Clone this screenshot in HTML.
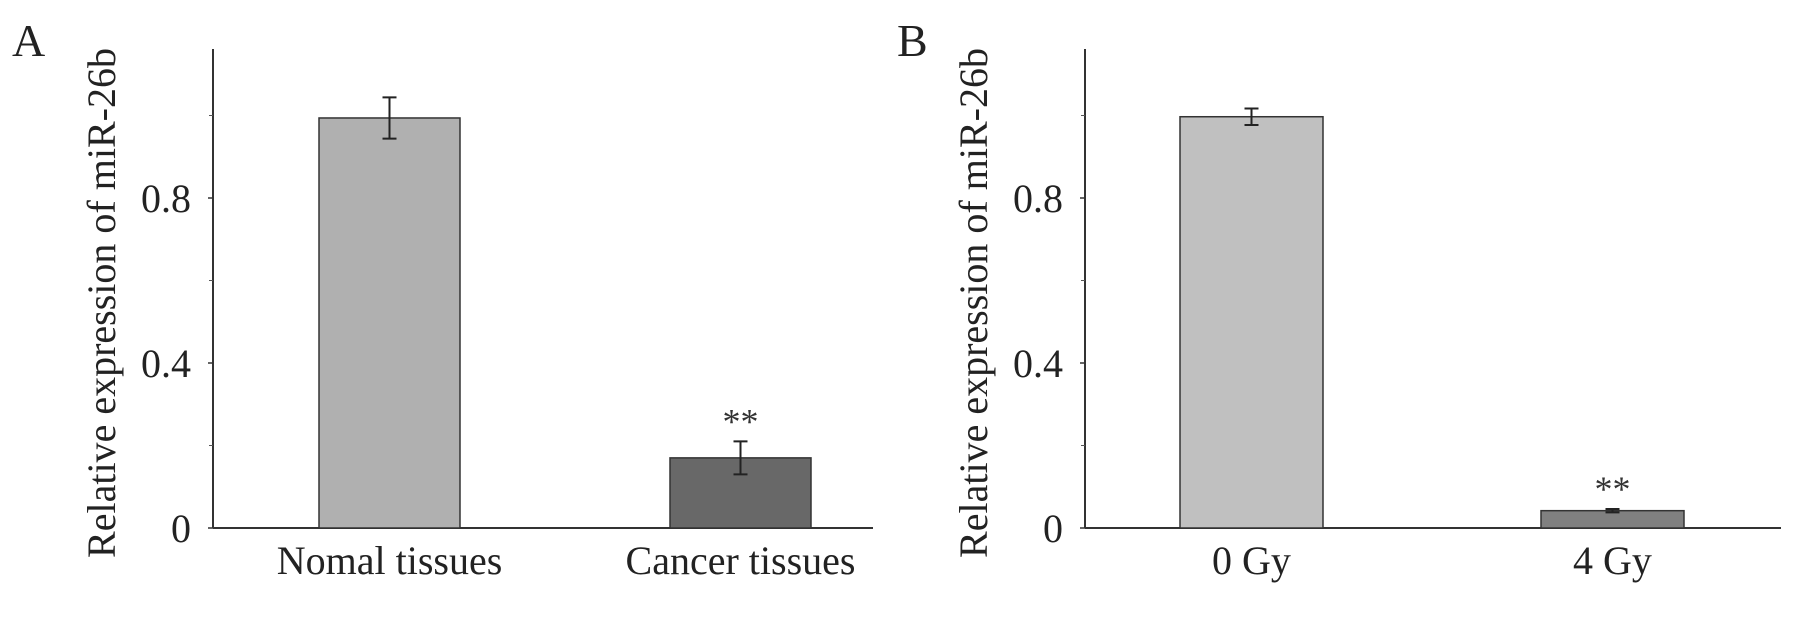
<!DOCTYPE html>
<html><head><meta charset="utf-8"><style>
html,body{margin:0;padding:0;background:#fff;}
svg{display:block;font-family:"Liberation Serif",serif;}
</style></head><body>
<svg id="fig" width="1808" height="618" viewBox="0 0 1808 618">
<text x="12" y="56" font-size="46" fill="#222">A</text>
<text x="897" y="56" font-size="46" fill="#222">B</text>
</svg>
<script>
const panelACategories = ["Nomal tissues", "Cancer tissues"];
const panelAValues = [0.994, 0.17];
const panelAErrors = [0.05, 0.04];
const panelBCategories = ["0 Gy", "4 Gy"];
const panelBValues = [0.997, 0.042];
const panelBErrors = [0.02, 0.004];
const yTickLabels = ["0", "0.4", "0.8"];
const yTickValues = [0, 0.4, 0.8];
const minorTickValues = [0.2, 0.6, 1.0];
const sigLabels = ["", "**"];

const NS = "http://www.w3.org/2000/svg";
const svg = document.getElementById("fig");
function mk(tag, attrs, parent) {
  const e = document.createElementNS(NS, tag);
  for (const k in attrs) e.setAttribute(k, attrs[k]);
  (parent || svg).appendChild(e);
  return e;
}
function drawPanel(cfg, cats, vals, errs, colors, prefix) {
  const y = v => cfg.y0 - v * 412.5;
  const g = mk("g", {});
  
  
  const ax = mk("line", {x1: cfg.ax, y1: 49, x2: cfg.ax, y2: cfg.y0, stroke: "#333", "stroke-width": 2}, g);
  
  
  const bx = mk("line", {x1: cfg.ax, y1: cfg.y0, x2: cfg.xEnd, y2: cfg.y0, stroke: "#333", "stroke-width": 2}, g);
  
  
  yTickValues.forEach((v, i) => {
    const t = mk("line", {x1: cfg.ax - 5, y1: y(v), x2: cfg.ax, y2: y(v), stroke: "#333", "stroke-width": 1.5}, g);
    
    
    const l = mk("text", {x: cfg.ax - 22, y: y(v) + 14, "font-size": 40, "text-anchor": "end", fill: "#222"}, g);
    l.textContent = yTickLabels[i];
    
    
  });
  minorTickValues.forEach(v => {
    const t = mk("line", {x1: cfg.ax - 4, y1: y(v), x2: cfg.ax, y2: y(v), stroke: "#555", "stroke-width": 1}, g);
    
    
  });
  const yl = mk("text", {x: 0, y: 0, "font-size": 40, "text-anchor": "middle", fill: "#222",
    textLength: 510, lengthAdjust: "spacingAndGlyphs",
    transform: `translate(${cfg.ylx},303) rotate(-90)`}, g);
  yl.textContent = "Relative expression of miR-26b";
  
  
  cats.forEach((c, i) => {
    const x0 = cfg.barX[i], w = cfg.barW;
    const cx = x0 + w / 2;
    const r = mk("rect", {x: x0, y: y(vals[i]), width: w, height: cfg.y0 - y(vals[i]), fill: colors[i], stroke: "#333", "stroke-width": 1.5}, g);
    
    
    const e = mk("path", {d: `M${cx},${y(vals[i] + errs[i])}V${y(vals[i] - errs[i])}M${cx - 7},${y(vals[i] + errs[i])}H${cx + 7}M${cx - 7},${y(vals[i] - errs[i])}H${cx + 7}`, stroke: "#222", "stroke-width": 2, fill: "none"}, g);
    
    
    const l = mk("text", {x: cx, y: 574, "font-size": 40, "text-anchor": "middle", fill: "#222"}, g);
    l.textContent = c;
    
    
    if (sigLabels[i]) {
      const s = mk("text", {x: cx, y: y(vals[i] + errs[i]) - 8, "font-size": 36, "text-anchor": "middle", fill: "#333"}, g);
      s.textContent = sigLabels[i];
      
      
    }
  });
}
drawPanel({ax: 213, y0: 528, xEnd: 873, ylx: 115, barX: [319, 670], barW: 141}, panelACategories, panelAValues, panelAErrors, ["#b0b0b0", "#686868"], "panel-a");
drawPanel({ax: 1085, y0: 528, xEnd: 1781, ylx: 987, barX: [1180, 1541], barW: 143}, panelBCategories, panelBValues, panelBErrors, ["#c0c0c0", "#808080"], "panel-b");
</script>
</body></html>
